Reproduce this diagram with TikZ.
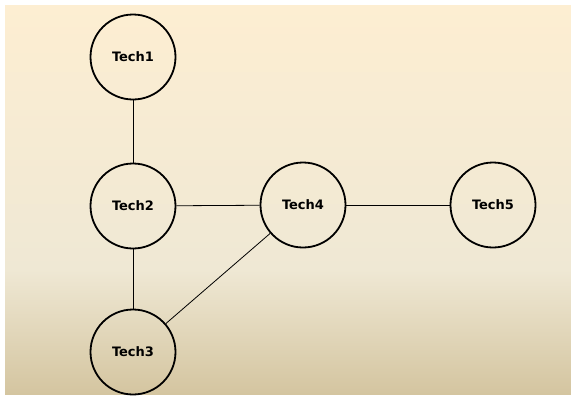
\documentclass[tikz,border=0pt]{standalone}
\usepackage{fontspec}
\setmainfont{DejaVu Sans}
\definecolor{bgtop}{RGB}{253,238,210}
\definecolor{bgmid}{RGB}{239,232,212}
\definecolor{bgbot}{RGB}{212,197,160}
\def\bgupper{(5,5) rectangle (571,270)}
\def\bglower{(5,269.5) rectangle (571,394)}

\begin{document}
\begin{tikzpicture}[x=1pt,y=-1pt,
  tech/.style={circle,draw,line width=1.8pt,minimum size=85pt,inner sep=0pt,font=\bfseries\fontsize{13}{15}\selectfont},
  link/.style={line width=0.8pt}]
\useasboundingbox (0,0) rectangle (571,397);
\shade[top color=bgtop, bottom color=bgmid] \bgupper;
\shade[top color=bgmid, bottom color=bgbot] \bglower;

\node[tech] (tech1) at (133,57) {Tech1};
\node[tech] (tech2) at (133,206) {Tech2};
\node[tech] (tech3) at (133,352) {Tech3};
\node[tech] (tech4) at (303,205) {Tech4};
\node[tech] (tech5) at (493,205) {Tech5};

\draw[link] (tech1) -- (tech2);
\draw[link] (tech2) -- (tech3);
\draw[link] (tech2) -- (tech4);
\draw[link] (tech3) -- (tech4);
\draw[link] (tech4) -- (tech5);
\end{tikzpicture}
\end{document}
